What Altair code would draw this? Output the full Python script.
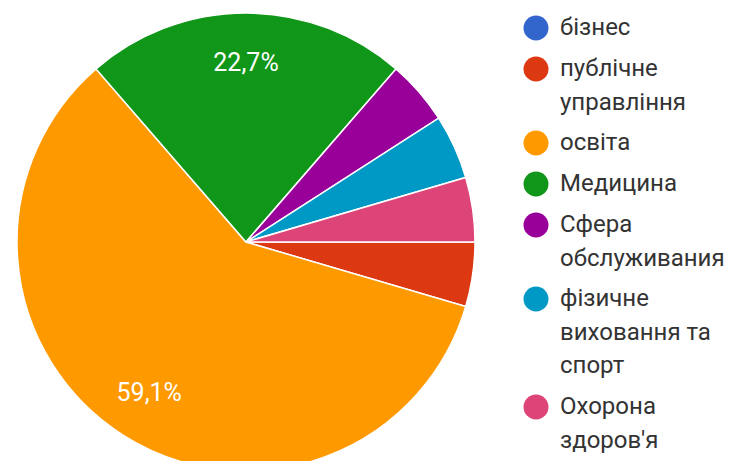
import math
import altair as alt
import pandas as pd

categories = ["бізнес", "публічне\nуправління", "освіта", "Медицина",
              "Сфера\nобслуживания", "фізичне\nвиховання та\nспорт", "Охорона\nздоров'я"]
counts = [0, 1, 13, 5, 1, 1, 1]
colors = ["#3366cc", "#dc3912", "#ff9900", "#109618", "#990099", "#0099c6", "#dd4477"]

total = sum(counts)
pcts = [c / total for c in counts]
labels = [(f"{p*100:.1f}".replace(".", ",") + "%") if p >= 0.1 else "" for p in pcts]

df = pd.DataFrame({
    "category": categories,
    "count": counts,
    "order": list(range(len(categories))),
    "label": labels,
})

theta = alt.Theta("count:Q", stack=True,
                  scale=alt.Scale(range=[math.pi / 2, math.pi / 2 + 2 * math.pi]))

arcs = alt.Chart(df).mark_arc(radius=229, stroke="white", strokeWidth=1.5).encode(
    theta=theta,
    order=alt.Order("order:Q"),
    x=alt.value(246),
    y=alt.value(242),
    color=alt.Color(
        "category:N",
        sort=categories,
        scale=alt.Scale(domain=categories, range=colors),
        legend=alt.Legend(
            title=None,
            orient="none",
            legendX=523.5,
            legendY=15.5,
            labelExpr="split(datum.label, '\\n')",
            labelFont="Roboto",
            labelFontSize=24,
            labelColor="#333333",
            labelLimit=300,
            labelOffset=11.5,
            symbolType="circle",
            symbolSize=625,
            symbolStrokeWidth=0,
            symbolOpacity=1,
            rowPadding=16,
            padding=0,
        ),
    ),
)

texts = alt.Chart(df).mark_text(radius=179, font="Roboto", fontSize=25, color="white").encode(
    theta=theta,
    order=alt.Order("order:Q"),
    detail="category:N",
    x=alt.value(246),
    y=alt.value(242),
    text="label:N",
)

chart = alt.layer(arcs, texts).properties(
    width=741, height=461, padding=0,
    autosize=alt.AutoSizeParams(type="none"),
    background="white",
).configure(
    view=alt.ViewConfig(strokeWidth=0),
    style={"guide-label": {"lineHeight": 33.5}},
)

chart.save("out.html", embed_options={"renderer": "svg", "actions": False})
